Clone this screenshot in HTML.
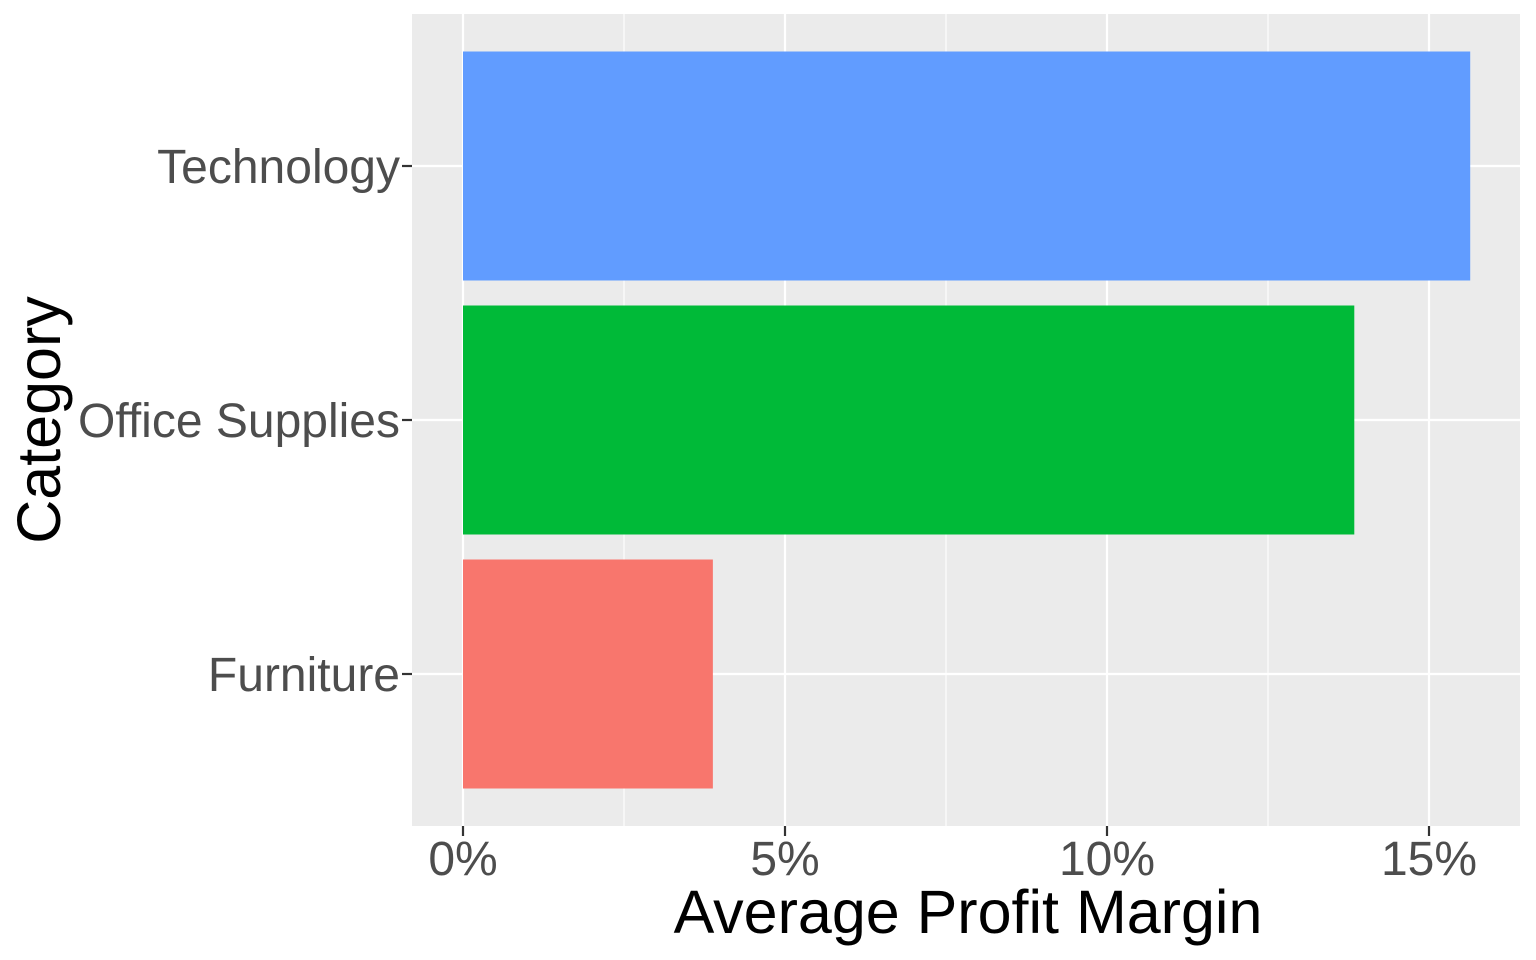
<!DOCTYPE html>
<html><head><meta charset="utf-8"><style>
html,body{margin:0;padding:0;background:#fff;}
svg{display:block;font-family:"Liberation Sans",sans-serif;}
</style></head><body>
<svg id="chart" width="1536" height="960" viewBox="0 0 1536 960">
<rect x="412" y="14" width="1108" height="812" fill="#ebebeb"/>
<g id="grid"></g>
<g id="bars"></g>
<g id="axes"></g>
<text x="968" y="933" text-anchor="middle" font-size="61" fill="#000">Average Profit Margin</text>
<text transform="translate(60,420) rotate(-90)" text-anchor="middle" font-size="61" fill="#000">Category</text>
</svg>
<script>
const categories = ["Furniture", "Office Supplies", "Technology"];
const values = [3.88, 13.84, 15.64];
const colors = ["#f8766d", "#00ba38", "#619cff"];
const xTicks = [0, 5, 10, 15];
const xTickLabels = ["0%", "5%", "10%", "15%"];
const xMinor = [2.5, 7.5, 12.5];

const NS = "http://www.w3.org/2000/svg";
const panel = {left: 412, right: 1520, top: 14, bottom: 826};
function xScale(v){ return 463 + v * 64.4; }
const band = 254;
function yCenter(i){ return 674 - i * band; }
const barH = 229;

function mk(tag, attrs, parent){
  const el = document.createElementNS(NS, tag);
  for (const k in attrs) el.setAttribute(k, attrs[k]);
  parent.appendChild(el);
  return el;
}
const grid = document.getElementById("grid");
const bars = document.getElementById("bars");
const axes = document.getElementById("axes");

xMinor.forEach(v => {
  const l = mk("line", {x1: xScale(v), x2: xScale(v), y1: panel.top, y2: panel.bottom, stroke: "#fff", "stroke-width": 1.1}, grid);
  
  
});
xTicks.forEach((v, i) => {
  const l = mk("line", {x1: xScale(v), x2: xScale(v), y1: panel.top, y2: panel.bottom, stroke: "#fff", "stroke-width": 2.2}, grid);
  
  
  const t = mk("line", {x1: xScale(v), x2: xScale(v), y1: panel.bottom, y2: panel.bottom + 10, stroke: "#333", "stroke-width": 2.2}, axes);
  
  
  const tx = mk("text", {x: xScale(v), y: 875, "text-anchor": "middle", "font-size": 48, fill: "#4d4d4d"}, axes);
  tx.textContent = xTickLabels[i];
  
  
});
categories.forEach((c, i) => {
  const y = yCenter(i);
  const g = mk("line", {x1: panel.left, x2: panel.right, y1: y, y2: y, stroke: "#fff", "stroke-width": 2.2}, grid);
  
  
  const r = mk("rect", {x: xScale(0), y: y - barH / 2, width: xScale(values[i]) - xScale(0), height: barH, fill: colors[i]}, bars);
  
  
  const t = mk("line", {x1: panel.left - 10, x2: panel.left, y1: y, y2: y, stroke: "#333", "stroke-width": 2.2}, axes);
  
  
  const tx = mk("text", {x: 400, y: y + 17, "text-anchor": "end", "font-size": 48, fill: "#4d4d4d"}, axes);
  tx.textContent = c;
  
  
});
</script>
</body></html>
